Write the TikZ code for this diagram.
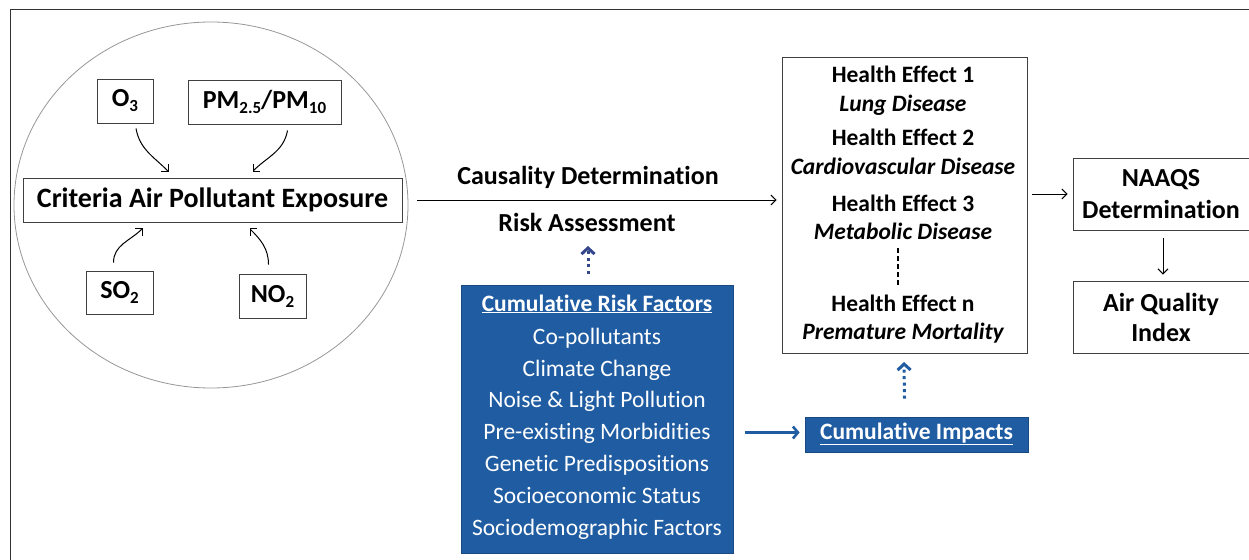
\documentclass[tikz,border=0pt]{standalone}
\usepackage{fontspec}
\setmainfont{Carlito}[Ligatures=NoCommon]
\usetikzlibrary{arrows.meta,calc}
\definecolor{boxblue}{RGB}{31,92,162}
\definecolor{dotblue}{RGB}{52,70,140}
\definecolor{rimgray}{RGB}{150,150,150}
\newcommand\lowsub[1]{\raisebox{-0.4ex}{\fontsize{17}{17}\selectfont #1}}
\begin{document}
\begin{tikzpicture}[x=1pt,y=-1pt,
  every node/.style={font=\fontsize{26}{30}\selectfont\bfseries},
  plainbox/.style={draw=black!75,line width=0.9pt,inner sep=0pt},
  bluebox/.style={fill=boxblue,draw=boxblue!80!black,line width=0.8pt,inner sep=0pt},
  link/.style={line width=1pt,-{Straight Barb[length=5pt,width=10pt]}},
  bluelink/.style={draw=boxblue,line width=2.6pt,-{Straight Barb[length=5pt,width=12pt]}},
  dotlink/.style={draw=dotblue,line width=3pt,dash pattern=on 3pt off 3.5pt,
    -{Straight Barb[length=6pt,width=13pt,line width=3pt]}},
  line/.style={text height=17pt,text depth=5pt},
  wtext/.style={line,text=white,font=\fontsize{23.5}{28}\selectfont},
  htext/.style={line,font=\fontsize{23.5}{28}\selectfont\bfseries},
  itext/.style={line,font=\fontsize{23.5}{28}\selectfont\bfseries\itshape}]
\useasboundingbox (0,0) rectangle (1249,559);

% outer frame (open to the right and bottom)
\draw[black!80,line width=1pt] (10,560) -- (10,10) -- (1250,10);

% exposure sphere
\draw[rimgray,line width=0.8pt] (211,205) ellipse [x radius=197,y radius=183];

\node[plainbox,minimum width=56,minimum height=44] (o3) at (125,101) {O\lowsub{3}};
\node[plainbox,minimum width=153,minimum height=44] (pm) at (264.5,102) {PM\lowsub{2.5}/PM\lowsub{10}};
\node[plainbox,minimum width=379,minimum height=44,font=\fontsize{28}{32}\selectfont\bfseries] (crit) at (212.5,200) {Criteria Air Pollutant Exposure};
\node[plainbox,minimum width=67,minimum height=43] (so2) at (119.5,292.5) {SO\lowsub{2}};
\node[plainbox,minimum width=67,minimum height=44] (no2) at (272.5,296) {NO\lowsub{2}};

\draw[link] ([xshift=11pt,yshift=-5pt]o3.south) to[out=-80,in=135] ([xshift=-44pt,yshift=6pt]crit.north);
\draw[link] ([xshift=23pt,yshift=-6pt]pm.south) to[out=-100,in=45] ([xshift=40pt,yshift=6pt]crit.north);
\draw[link] ([xshift=-6pt,yshift=8pt]so2.north) to[out=90,in=-135] ([xshift=-70pt,yshift=-6pt]crit.south);
\draw[link] ([xshift=-4pt,yshift=9pt]no2.north) to[out=90,in=-45] ([xshift=37pt,yshift=-6pt]crit.south);

% health effects
\node[plainbox,minimum width=245,minimum height=296] (health) at (904.5,205) {};
\node[htext] (h1) at (903,77) {Health Effect 1};
\node[itext] (d1) at (903,105) {Lung Disease};
\node[htext] (h2) at (903,140) {Health Effect 2};
\node[itext] (d2) at (903,168) {Cardiovascular Disease};
\node[htext] (h3) at (903,205) {Health Effect 3};
\node[itext] (d3) at (903,233) {Metabolic Disease};
\node[htext] (hn) at (903,305) {Health Effect n};
\node[itext] (dn) at (903,333) {Premature Mortality};
\draw[line width=1.2pt,dash pattern=on 5pt off 3pt] (898,248) -- (898,286);

% main pathway
\draw[link] ([xshift=15pt]crit.east) -- ([xshift=-5pt]crit.east -| health.west);
\node (causal) at (588,177) {Causality Determination};
\node (risk) at (587,222) {Risk Assessment};

% regulatory outputs
\node[plainbox,minimum width=176,minimum height=72,align=center,font=\fontsize{26}{32}\selectfont\bfseries] (naaqs) at (1161,194) {NAAQS\\Determination};
\node[plainbox,minimum width=176,minimum height=72,align=center,font=\fontsize{26}{30}\selectfont\bfseries] (aqi) at (1161,317) {Air Quality\\Index};
\draw[link] ([xshift=5pt]naaqs.west -| health.east) -- ([xshift=-5pt]naaqs.west);
\draw[link] ([xshift=2pt,yshift=-8pt]naaqs.south) -- ([xshift=2pt,yshift=6pt]aqi.north);

% cumulative risk factors
\node[bluebox,minimum width=272,minimum height=268] (rf) at (597,419) {};
\node[wtext,font=\fontsize{23.5}{28}\selectfont\bfseries] (rft) at (597,305) {\underline{Cumulative Risk Factors}};
\node[wtext] (r1) at (597,338) {Co-pollutants};
\node[wtext] (r2) at (597,370) {Climate Change};
\node[wtext] (r3) at (597,401) {Noise \& Light Pollution};
\node[wtext] (r4) at (597,433) {Pre-existing Morbidities};
\node[wtext] (r5) at (597,465) {Genetic Predispositions};
\node[wtext] (r6) at (597,497) {Socioeconomic Status};
\node[wtext] (r7) at (597,529) {Sociodemographic Factors};

\node[bluebox,minimum width=223,minimum height=35] (imp) at (916.5,434.5) {};
\node[wtext,font=\fontsize{23.5}{28}\selectfont\bfseries] (impt) at (916.5,433) {\underline{Cumulative Impacts}};

\draw[bluelink] ([xshift=12pt,yshift=2pt]rf.east |- imp.west) -- ([xshift=-5pt,yshift=2pt]imp.west);
\coordinate (risktip) at (588,246);
\draw[dotlink] ([xshift=-9pt,yshift=11pt]rf.north) -- (risktip);
\coordinate (healthtip) at (904,362);
\draw[dotlink,draw=boxblue] ([xshift=-12pt,yshift=18pt]imp.north) -- (healthtip);
\end{tikzpicture}
\end{document}
